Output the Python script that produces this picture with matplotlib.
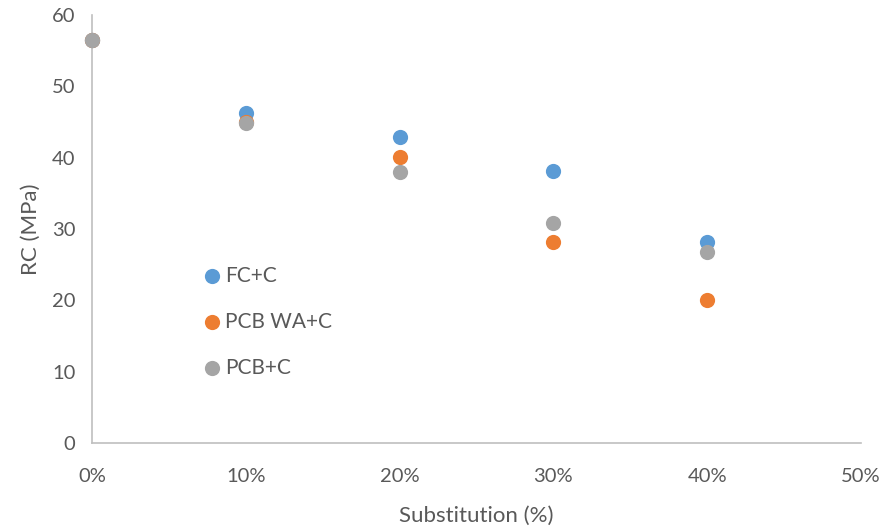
import matplotlib
matplotlib.use("Agg")
import matplotlib.pyplot as plt

plt.rcParams['font.family'] = ['Lato', 'DejaVu Sans']

# compressive strength vs. substitution level
substitution = [0.0, 0.1, 0.2, 0.3, 0.4]
fc_c = [56.5, 46.3, 42.9, 38.1, 28.2]
pcb_wa_c = [56.5, 45.0, 40.1, 28.2, 20.0]
pcb_c = [56.5, 44.8, 38.0, 30.8, 26.8]

series = [
    ("FC+C", fc_c, "#5B9BD5"),
    ("PCB WA+C", pcb_wa_c, "#ED7D31"),
    ("PCB+C", pcb_c, "#A5A5A5"),
]

text_color = "#595959"
axis_color = "#BFBFBF"

fig = plt.figure(figsize=(8.87, 5.29), dpi=100)
ax = fig.add_axes([92 / 887, 86 / 529, 769 / 887, 428 / 529])

for name, vals, color in series:
    ax.scatter(substitution, vals, s=120, color=color, label=name,
               linewidths=0, zorder=3, clip_on=False)

ax.set_xlim(0, 0.5)
ax.set_ylim(0, 60)
ax.set_xticks([0, 0.1, 0.2, 0.3, 0.4, 0.5])
ax.set_xticklabels([f"{int(round(t * 100))}%" for t in ax.get_xticks()])
ax.set_yticks(range(0, 61, 10))

for side in ("top", "right"):
    ax.spines[side].set_visible(False)
for side in ("left", "bottom"):
    ax.spines[side].set_color(axis_color)
    ax.spines[side].set_linewidth(1.2)

ax.tick_params(axis="both", length=0, labelsize=14.5, labelcolor=text_color)
ax.tick_params(axis="x", pad=18)
ax.tick_params(axis="y", pad=12)

ax.set_xlabel("Substitution (%)", fontsize=16, color=text_color, labelpad=15)
ax.set_ylabel("RC (MPa)", fontsize=16, color=text_color, labelpad=8)

leg = ax.legend(loc="center left", bbox_to_anchor=(0.1456, 0.283), frameon=False,
                fontsize=15, labelcolor=text_color, handlelength=0.8,
                handletextpad=0.2, labelspacing=1.25, borderpad=0,
                borderaxespad=0)

fig.savefig("out.png", dpi=100)
